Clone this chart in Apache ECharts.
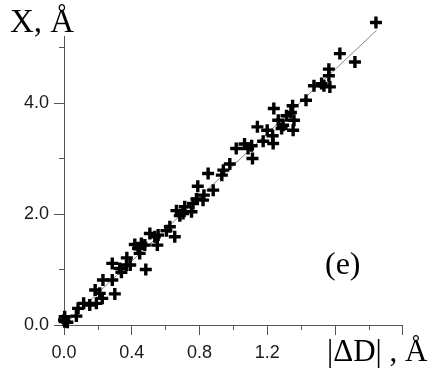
<!DOCTYPE html>
<html>
<head>
<meta charset="utf-8">
<script src="https://cdn.jsdelivr.net/npm/echarts@6/dist/echarts.min.js"></script>
<style>
html,body{margin:0;padding:0;background:#fff;}
#c{width:442px;height:368px;}
</style>
</head>
<body>
<div id="c"></div>
<script>
// |ΔD| (Å) values
const dD = [1.842,1.629,1.718,1.564,1.564,1.476,1.521,1.535,1.570,1.429,1.239,1.350,1.340,1.314,1.265,1.358,1.294,1.142,1.200,1.353,1.285,1.232,1.176,1.235,1.108,1.017,1.066,1.087,1.113,0.979,0.941,0.851,0.932,0.790,0.881,0.826,0.782,0.762,0.821,0.713,0.664,0.703,0.753,0.684,0.625,0.605,0.654,0.556,0.507,0.536,0.551,0.457,0.418,0.477,0.437,0.447,0.371,0.369,0.329,0.339,0.391,0.285,0.483,0.230,0.285,0.184,0.211,0.300,0.226,0.191,0.152,0.116,0.083,0.073,0.004,0.004,0.0,0.02];
// X (Å) values
const X = [5.45,4.89,4.74,4.61,4.49,4.31,4.35,4.31,4.29,4.05,3.90,3.95,3.83,3.77,3.69,3.69,3.60,3.57,3.51,3.51,3.54,3.41,3.31,3.27,3.23,3.18,3.26,3.18,3.00,2.90,2.79,2.73,2.70,2.50,2.43,2.34,2.27,2.19,2.25,2.13,2.06,2.01,2.04,1.97,1.77,1.70,1.59,1.62,1.65,1.59,1.44,1.47,1.45,1.44,1.38,1.29,1.21,1.08,1.02,0.95,1.08,1.11,1.00,0.81,0.81,0.63,0.57,0.56,0.48,0.39,0.36,0.39,0.30,0.16,0.15,0.06,0.09,0.05];
// fitted line end points
const fitX = [0, 1.846];
const fitY = [0, 5.31];
// ticks
const xLabelTicks = [0, 0.4, 0.8, 1.2];
const xMajorTicks = [0, 0.4, 0.8, 1.2, 1.6, 2.0];
const xMinorTicks = [0.2, 0.6, 1.0, 1.4, 1.8];
const yLabelTicks = [0, 2, 4];
const yMajorTicks = [0, 2, 4];
const yMinorTicks = [1, 3, 5];

const pts = dD.map((d, i) => [d, X[i]]);
const fit = fitX.map((d, i) => [d, fitY[i]]);
const plus = 'path://M4.3,0H7.7V4.3H12V7.7H7.7V12H4.3V7.7H0V4.3H4.3Z';
const axisCol = '#555';
const labelStyle = {fontFamily: 'Liberation Sans, Arial, sans-serif', fontSize: 18, color: '#1a1a1a'};
const serif = 'Liberation Serif, Times New Roman, serif';

const chart = echarts.init(document.getElementById('c'), null, {renderer: 'canvas'});
chart.setOption({
  animation: false,
  backgroundColor: '#fff',
  title: [
    {text: 'X, Å', left: 5, top: 2, textStyle: {fontFamily: serif, fontSize: 33, fontWeight: 'normal', color: '#000'}},
    {text: '|ΔD| , Å', left: 322, top: 332, textStyle: {fontFamily: serif, fontSize: 31, fontWeight: 'normal', color: '#000'}},
    {text: '(e)', left: 320, top: 245, textStyle: {fontFamily: serif, fontSize: 32, fontWeight: 'normal', color: '#000'}}
  ],
  grid: {left: 64, right: 39.3, top: 36.4, bottom: 43, containLabel: false, outerBoundsMode: 'none'},
  xAxis: [
    {type: 'value', min: 0, max: 2.0, position: 'bottom',
     axisLine: {show: true, onZero: false, lineStyle: {color: axisCol, width: 1}},
     axisTick: {show: true, customValues: xMajorTicks, length: 10, lineStyle: {color: axisCol}},
     axisLabel: {show: true, customValues: xLabelTicks, margin: 19, formatter: v => v.toFixed(1), ...labelStyle},
     splitLine: {show: false}},
    {type: 'value', min: 0, max: 2.0, position: 'bottom',
     axisLine: {show: false},
     axisTick: {show: true, customValues: xMinorTicks, length: 5, lineStyle: {color: axisCol}},
     axisLabel: {show: false},
     splitLine: {show: false}}
  ],
  yAxis: [
    {type: 'value', min: 0, max: 5.2, position: 'left',
     axisLine: {show: true, onZero: false, lineStyle: {color: axisCol, width: 1}},
     axisTick: {show: true, customValues: yMajorTicks, length: 10, lineStyle: {color: axisCol}},
     axisLabel: {show: true, customValues: yLabelTicks, margin: 15, formatter: v => v.toFixed(1), ...labelStyle},
     splitLine: {show: false}},
    {type: 'value', min: 0, max: 5.2, position: 'left',
     axisLine: {show: false},
     axisTick: {show: true, customValues: yMinorTicks, length: 5, lineStyle: {color: axisCol}},
     axisLabel: {show: false},
     splitLine: {show: false}}
  ],
  series: [
    {type: 'line', data: fit, symbol: 'none', clip: false, lineStyle: {color: '#888', width: 1}, z: 1, silent: true},
    {type: 'scatter', data: pts, symbol: plus, symbolSize: 12, clip: false, itemStyle: {color: '#000', opacity: 1}, z: 2}
  ]
});
</script>
</body>
</html>
